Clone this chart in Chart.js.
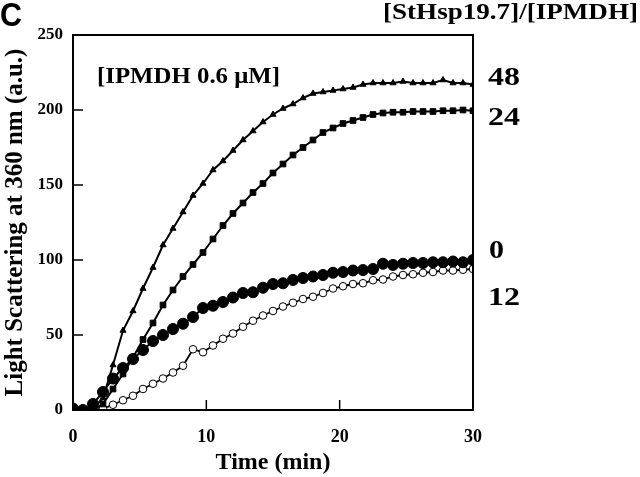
<!DOCTYPE html>
<html>
<head>
<meta charset="utf-8">
<script src="https://cdn.jsdelivr.net/npm/chart.js@4"></script>
<style>
  html, body { margin: 0; padding: 0; background: #fff; }
  #wrap { width: 640px; height: 477px; position: relative; }
</style>
</head>
<body>
<div id="wrap"><canvas id="scatterChart"></canvas></div>
<script>
// time in minutes, one reading every 45 s
const times = [0, 0.75, 1.5, 2.25, 3, 3.75, 4.5, 5.25, 6, 6.75, 7.5, 8.25, 9, 9.75, 10.5,
  11.25, 12, 12.75, 13.5, 14.25, 15, 15.75, 16.5, 17.25, 18, 18.75, 19.5, 20.25, 21, 21.75,
  22.5, 23.25, 24, 24.75, 25.5, 26.25, 27, 27.75, 28.5, 29.25, 30];

// [StHsp19.7]/[IPMDH] ratios
const ratio48 = [0, 0, 1, 8, 30, 53, 66, 81, 95, 110, 121, 132, 143, 151, 160, 166, 173, 180,
  186, 192, 197, 201, 204, 208, 211, 212, 213, 214, 215, 217, 218, 218, 218, 219, 218, 218,
  218, 220, 218, 218, 217];
const ratio24 = [0, 0, 0, 4, 14, 24, 35, 47, 58, 70, 80, 89, 97, 105, 114, 123, 131, 138, 145,
  151, 158, 164, 170, 175, 180, 185, 188, 191, 193, 195, 197, 198, 198.5, 198.5, 199, 199,
  199, 199.5, 199.5, 200, 199.5];
const ratio0 = [1, 0, 4, 12, 21, 28, 34, 40, 46, 50, 54, 57.5, 62, 68, 69.5, 72, 75, 78, 78.5,
  81.5, 84, 84.5, 86.7, 88, 89, 90, 91.5, 92, 93, 93.3, 94, 97.5, 96.7, 97.5, 98, 98, 98.5,
  98.5, 99, 98.5, 100];
const ratio12 = [0, 0, 0, 1, 3.5, 6.5, 9.5, 14, 17.5, 21, 25, 29.5, 40.5, 38.5, 43, 47.5, 51,
  55.5, 59.5, 63, 66, 69, 71.5, 74, 75.5, 78, 81, 82.5, 84, 84.5, 86.5, 87, 89, 90, 90.5, 91.5,
  92, 93, 93, 93.5, 94];

const xTicks = [0, 10, 20, 30];
const yTicks = [0, 50, 100, 150, 200, 250];

const toPoints = arr => arr.map((v, i) => ({ x: times[i], y: v }));

const serifBold = { family: '"Liberation Serif", "Times New Roman", serif', weight: 'bold' };
const SERIF = '"Liberation Serif", serif';

// the figure's lettering is a bit wide, so squeeze/stretch text to a target width
function wideText(ctx, text, x, y, font, width) {
  ctx.font = font;
  const w = ctx.measureText(text).width;
  ctx.save();
  ctx.translate(x, y);
  ctx.scale(width / w, 1);
  ctx.fillText(text, 0, 0);
  ctx.restore();
}

// inward tick marks, box frame and the text labels
const framePlugin = {
  id: 'frame',
  afterDraw(chart) {
    const { ctx, chartArea: a, scales } = chart;
    ctx.save();
    ctx.strokeStyle = '#000';
    ctx.lineWidth = 2;
    ctx.strokeRect(a.left, a.top, a.right - a.left, a.bottom - a.top);
    ctx.lineWidth = 1.5;
    ctx.beginPath();
    xTicks.forEach(t => {
      const px = scales.x.getPixelForValue(t);
      ctx.moveTo(px, a.bottom);
      ctx.lineTo(px, a.bottom - 10);
    });
    yTicks.forEach(t => {
      const py = scales.y.getPixelForValue(t);
      ctx.moveTo(a.left, py);
      ctx.lineTo(a.left + 10, py);
    });
    ctx.stroke();

    ctx.fillStyle = '#000';
    ctx.textBaseline = 'middle';
    ctx.textAlign = 'left';
    wideText(ctx, 'C', 0, 17, 'bold 34px "Liberation Sans", Arial, sans-serif', 22);
    wideText(ctx, '[StHsp19.7]/[IPMDH]', 383, 13, 'bold 23px ' + SERIF, 255);
    wideText(ctx, '[IPMDH 0.6 \u03bcM]', 97, 77, 'bold 24px ' + SERIF, 183);
    wideText(ctx, '48', 488, 78, 'bold 26px ' + SERIF, 32);
    wideText(ctx, '24', 488, 118, 'bold 26px ' + SERIF, 32);
    wideText(ctx, '0', 489, 251, 'bold 26px ' + SERIF, 15);
    wideText(ctx, '12', 488, 298, 'bold 26px ' + SERIF, 32);
    ctx.restore();
  }
};

const base = { borderColor: '#000', borderWidth: 2, pointBorderColor: '#000', tension: 0 };

new Chart(document.getElementById('scatterChart'), {
  type: 'line',
  data: {
    datasets: [
      { ...base, label: '48', data: toPoints(ratio48), pointStyle: 'triangle', pointRadius: 3.5,
        pointBackgroundColor: '#000', pointBorderWidth: 1 },
      { ...base, label: '24', data: toPoints(ratio24), pointStyle: 'rect', pointRadius: 4,
        pointBackgroundColor: '#000', pointBorderWidth: 1 },
      { ...base, label: '0', data: toPoints(ratio0), pointStyle: 'circle', pointRadius: 5.5,
        pointBackgroundColor: '#000', pointBorderWidth: 1 },
      { ...base, label: '12', data: toPoints(ratio12), pointStyle: 'circle', pointRadius: 3.8,
        pointBackgroundColor: '#fff', pointBorderWidth: 1, borderWidth: 1.8 }
    ]
  },
  options: {
    responsive: true,
    maintainAspectRatio: false,
    animation: false,
    layout: { padding: { top: 35, right: 167, left: 0, bottom: 0 } },
    plugins: { legend: { display: false }, tooltip: { enabled: false } },
    scales: {
      x: {
        type: 'linear', min: 0, max: 30,
        afterFit: s => { s.height = 67; },
        afterBuildTicks: s => { s.ticks = xTicks.map(v => ({ value: v })); },
        grid: { display: false, drawTicks: false },
        border: { display: false },
        ticks: { color: '#000', padding: 17, font: { ...serifBold, size: 18 } },
        title: { display: true, text: 'Time (min)', color: '#000', padding: { top: 0, bottom: 0 },
          font: { ...serifBold, size: 24 } }
      },
      y: {
        type: 'linear', min: 0, max: 250,
        afterFit: s => { s.width = 73; },
        afterBuildTicks: s => { s.ticks = yTicks.map(v => ({ value: v })); },
        grid: { display: false, drawTicks: false },
        border: { display: false },
        ticks: { color: '#000', padding: 10, font: { ...serifBold, size: 17 } },
        title: { display: true, text: 'Light Scattering at 360 nm (a.u.)', color: '#000',
          padding: { top: 1, bottom: 0 }, font: { ...serifBold, size: 25 } }
      }
    }
  },
  plugins: [framePlugin]
});
</script>
</body>
</html>
